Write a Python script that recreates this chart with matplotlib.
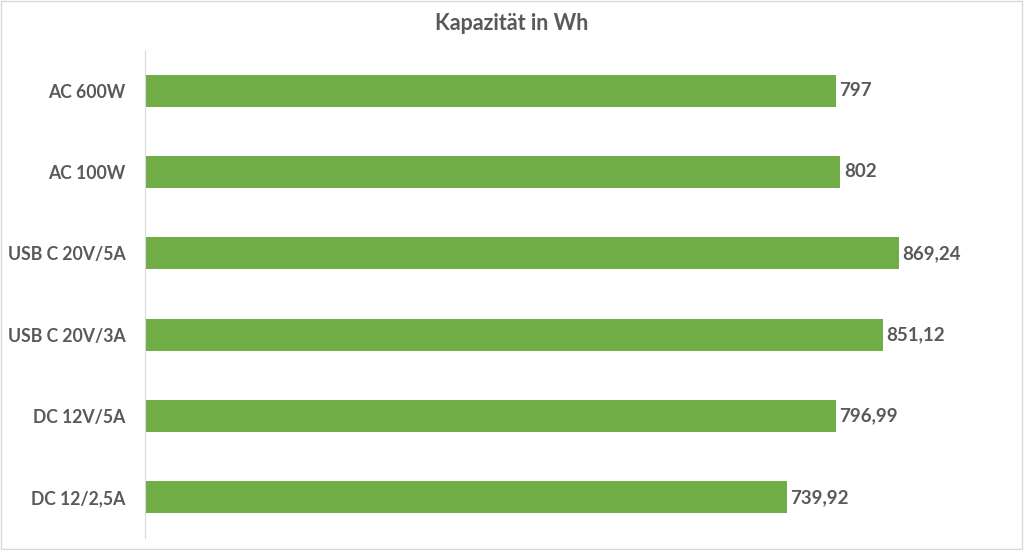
import matplotlib.pyplot as plt
from matplotlib.patches import Rectangle

plt.rcParams['font.family'] = ['Lato', 'DejaVu Sans']

# data, top to bottom as in the chart
labels = ["AC 600W", "AC 100W", "USB C 20V/5A", "USB C 20V/3A", "DC 12V/5A", "DC 12/2,5A"]
values = [797, 802, 869.24, 851.12, 796.99, 739.92]
valueText = ["797", "802", "869,24", "851,12", "796,99", "739,92"]

green = "#70AD47"
textColor = "#595959"

fig = plt.figure(figsize=(10.24, 5.5), dpi=100)
ax = fig.add_axes([145 / 1024, 12 / 550, 867 / 1024, 488 / 550])

ypos = list(range(len(labels)))[::-1]
ax.barh(ypos, values, height=0.39, color=green)
for y, v, t in zip(ypos, values, valueText):
    ax.text(v + 4, y, t, va="center", ha="left", fontsize=13.5, fontweight="bold", color=textColor)

ax.set_xlim(0, 1000)
ax.set_ylim(-0.5, len(labels) - 0.5)
ax.set_yticks(ypos)
ax.set_yticklabels(labels, fontsize=12.7, fontweight="bold", color=textColor)
ax.tick_params(axis="y", length=0, pad=14)
ax.set_xticks([])
for s in ["top", "right", "bottom"]:
    ax.spines[s].set_visible(False)
ax.spines["left"].set_color("#d9d9d9")

fig.text(0.5, 1 - 24 / 550, "Kapazität in Wh", ha="center", va="center", fontsize=15.5, fontweight="bold", color=textColor)

# light frame around the chart
fig.patches.append(Rectangle((0.001, 0.002), 0.997, 0.996, transform=fig.transFigure,
                             fill=False, edgecolor="#d9d9d9", linewidth=1))

fig.savefig("out.png", dpi=100)
